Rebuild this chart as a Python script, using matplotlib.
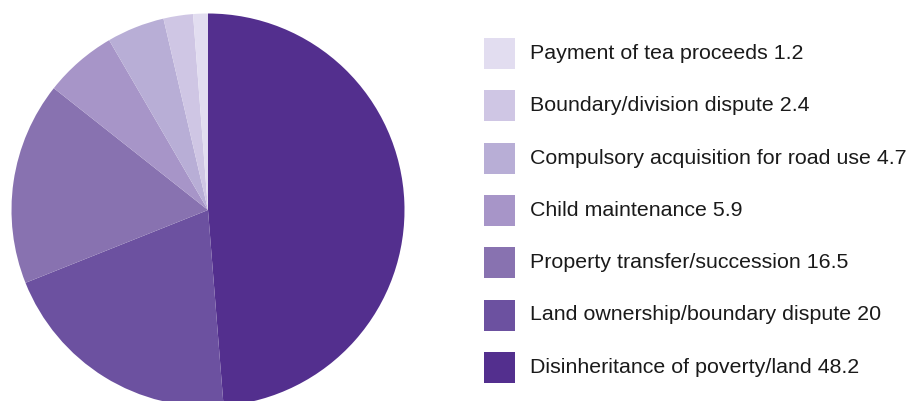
import matplotlib.pyplot as plt
from matplotlib.patches import Rectangle

# pie order: clockwise from 12 o'clock
categories = [
    "Disinheritance of poverty/land",
    "Land ownership/boundary dispute",
    "Property transfer/succession",
    "Child maintenance",
    "Compulsory acquisition for road use",
    "Boundary/division dispute",
    "Payment of tea proceeds",
]
values = [48.2, 20, 16.5, 5.9, 4.7, 2.4, 1.2]
value_labels = ["48.2", "20", "16.5", "5.9", "4.7", "2.4", "1.2"]
colors = ["#532f8e", "#6c51a0", "#8872b0", "#a795c8", "#b8aed6", "#cfc6e4", "#e2ddf0"]

W, H = 912, 401
fig = plt.figure(figsize=(W / 100, H / 100), dpi=100)

cx, cy, r = 208, 210, 196.5
ax = fig.add_axes([(cx - r) / W, (H - cy - r) / H, 2 * r / W, 2 * r / H])
ax.pie(values, colors=colors, startangle=90, counterclock=False,
       wedgeprops=dict(linewidth=0))
ax.set_xlim(-1, 1)
ax.set_ylim(-1, 1)
ax.set_aspect("equal")
ax.axis("off")

# legend, lightest on top
sq = 31
x0 = 484
y_top = 53.5
step = 52.3
for i, idx in enumerate(reversed(range(len(values)))):
    yc = y_top + i * step
    fig.patches.append(Rectangle((x0 / W, (H - yc - sq / 2) / H), sq / W, sq / H,
                                 transform=fig.transFigure, facecolor=colors[idx],
                                 edgecolor="none"))
    fig.text(530 / W, (H - yc) / H, f"{categories[idx]} {value_labels[idx]}",
             fontsize=15.4, family="Liberation Sans", color="#1a1a1a",
             va="center", ha="left")

fig.savefig("out.png", dpi=100)
